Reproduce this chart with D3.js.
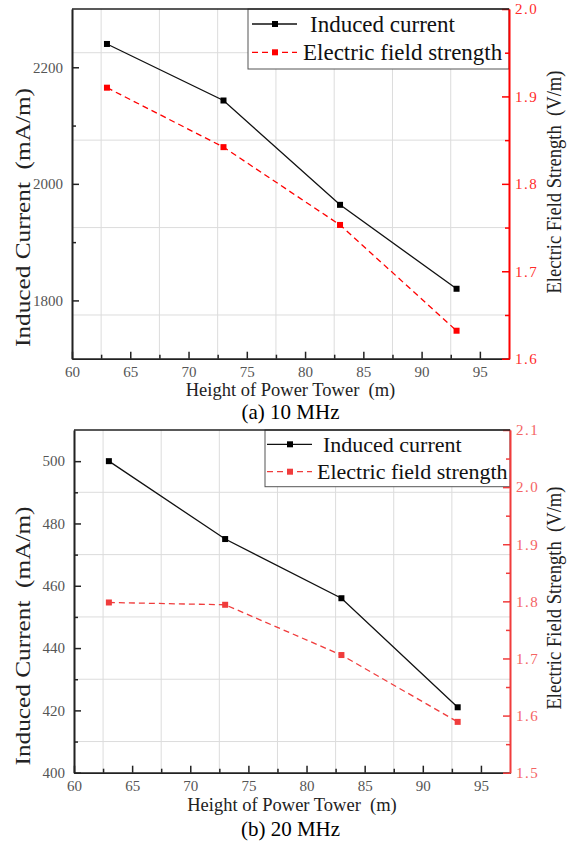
<!DOCTYPE html>
<html>
<head>
<meta charset="utf-8">
<script src="https://cdn.jsdelivr.net/npm/d3@7"></script>
<style>
  body { margin: 0; background: #fff; }
  svg { display: block; }
  svg text { font-family: "Liberation Serif", "Times New Roman", serif !important; }
</style>
</head>
<body>
<div id="chart"></div>
<script>
// values
const heights = [63, 73, 83, 93]
const current10 = [2240, 2143, 1964, 1820]
const field10 = [1.91, 1.842, 1.753, 1.632]
const current20 = [500, 475, 456, 421]
const field20 = [1.798, 1.794, 1.706, 1.589]

const xTicks = [60, 65, 70, 75, 80, 85, 90, 95]
const xMinor = [62.5, 67.5, 72.5, 77.5, 82.5, 87.5, 92.5]
const currentTicks10 = [1800, 2000, 2200]
const currentMinor10 = [1900, 2100]
const fieldTicks10 = [1.6, 1.7, 1.8, 1.9, 2.0]
const fieldMinor10 = [1.65, 1.75, 1.85, 1.95]
const currentTicks20 = [400, 420, 440, 460, 480, 500]
const currentMinor20 = [410, 430, 450, 470, 490]
const fieldTicks20 = [1.5, 1.6, 1.7, 1.8, 1.9, 2.0, 2.1]
const fieldMinor20 = [1.55, 1.65, 1.75, 1.85, 1.95, 2.05]

const seriesNames = ['Induced current', 'Electric field strength']
const captions = ['(a) 10 MHz', '(b) 20 MHz']
const xTitle = 'Height of Power Tower\u2002(m)'
const leftTitle = 'Induced Current\u2002(mA/m)'
const rightTitle = 'Electric Field Strength\u2002(V/m)'

const width = 573
const height = 844
const serif = '"Liberation Serif", "Times New Roman", serif'

const svg = d3
  .select('#chart')
  .append('svg')
  .attr('width', width)
  .attr('height', height)
  .attr('font-family', serif)

svg.append('rect').attr('width', width).attr('height', height).attr('fill', '#fff')

const panels = [
  {
    left: 72, right: 509, top: 9, bottom: 358.7,
    xDomain: [60, 97.5], leftDomain: [1700, 2300], rightDomain: [1.6, 2.0],
    current: current10, field: field10,
    leftTicks: currentTicks10, leftMinor: currentMinor10,
    rightTicks: fieldTicks10, rightMinor: fieldMinor10,
    gridSide: 'right',
    red: '#ff0000', redText: '#ff2a2a',
    legend: { x0: 248, y1: 69, rows: [24, 52.3], lineX: [252, 297], markX: 275, textX: [310, 303], textY: [32.3, 60], size: 23 },
    caption: captions[0], captionY: 419,
    xTitleY: 396,
    labelY: 217.5, rightLabelY: 182
  },
  {
    left: 74, right: 510, top: 430, bottom: 772.7,
    xDomain: [60, 97.5], leftDomain: [400, 510], rightDomain: [1.5, 2.1],
    current: current20, field: field20,
    leftTicks: currentTicks20, leftMinor: currentMinor20,
    rightTicks: fieldTicks20, rightMinor: fieldMinor20,
    gridSide: 'left',
    red: '#f03c3c', redText: '#f46464',
    legend: { x0: 265, y1: 486.7, rows: [444.3, 471.7], lineX: [267, 312], markX: 290, textX: [323, 317], textY: [452.3, 479.3], size: 22 },
    caption: captions[1], captionY: 836,
    xTitleY: 811,
    labelY: 636, rightLabelY: 598
  }
]

panels.forEach(drawPanel)

function drawPanel(p) {
  const g = svg.append('g')

  const x = d3.scaleLinear().domain(p.xDomain).range([p.left, p.right])
  const yL = d3.scaleLinear().domain(p.leftDomain).range([p.bottom, p.top])
  const yR = d3.scaleLinear().domain(p.rightDomain).range([p.bottom, p.top])

  // grid lines sit on the minor ticks
  g.append('g')
    .selectAll('line')
    .data(xMinor)
    .enter()
    .append('line')
    .attr('x1', d => x(d))
    .attr('x2', d => x(d))
    .attr('y1', p.top)
    .attr('y2', p.bottom)
    .attr('stroke', '#dcdcdc')
    .attr('stroke-width', 1)

  const hScale = p.gridSide === 'right' ? yR : yL
  const hVals = p.gridSide === 'right' ? p.rightMinor : p.leftMinor
  g.append('g')
    .selectAll('line')
    .data(hVals)
    .enter()
    .append('line')
    .attr('x1', p.left)
    .attr('x2', p.right)
    .attr('y1', d => hScale(d))
    .attr('y2', d => hScale(d))
    .attr('stroke', '#dcdcdc')
    .attr('stroke-width', 1)

  // series
  const currentPts = heights.map((h, i) => [x(h), yL(p.current[i])])
  const fieldPts = heights.map((h, i) => [x(h), yR(p.field[i])])

  g.append('path')
    .attr('d', d3.line()(currentPts))
    .attr('fill', 'none')
    .attr('stroke', '#111')
    .attr('stroke-width', 1.3)

  g.append('path')
    .attr('d', d3.line()(fieldPts))
    .attr('fill', 'none')
    .attr('stroke', p.red)
    .attr('stroke-width', 1.3)
    .attr('stroke-dasharray', '6,4')

  g.selectAll('.mk-c')
    .data(currentPts)
    .enter()
    .append('rect')
    .attr('x', d => d[0] - 3)
    .attr('y', d => d[1] - 3)
    .attr('width', 6)
    .attr('height', 6)
    .attr('fill', '#000')

  g.selectAll('.mk-f')
    .data(fieldPts)
    .enter()
    .append('rect')
    .attr('x', d => d[0] - 3)
    .attr('y', d => d[1] - 3)
    .attr('width', 6)
    .attr('height', 6)
    .attr('fill', p.red)

  // legend
  const L = p.legend
  g.append('rect')
    .attr('x', L.x0)
    .attr('y', p.top)
    .attr('width', p.right - L.x0)
    .attr('height', L.y1 - p.top)
    .attr('fill', '#fff')
    .attr('stroke', '#555')
    .attr('stroke-width', 1)

  const legColors = ['#111', p.red]
  seriesNames.forEach((name, i) => {
    g.append('line')
      .attr('x1', L.lineX[0])
      .attr('x2', L.lineX[1])
      .attr('y1', L.rows[i])
      .attr('y2', L.rows[i])
      .attr('stroke', legColors[i])
      .attr('stroke-width', 1.3)
      .attr('stroke-dasharray', i === 1 ? '6,4' : null)
    g.append('rect')
      .attr('x', L.markX - 3)
      .attr('y', L.rows[i] - 3)
      .attr('width', 6)
      .attr('height', 6)
      .attr('fill', i === 1 ? p.red : '#000')
    g.append('text')
      .attr('x', L.textX[i])
      .attr('y', L.textY[i])
      .attr('font-size', L.size)
      .attr('font-family', serif)
      .attr('fill', '#111')
      .text(name)
  })

  // axes, ticks point inward
  const xAxis = d3.axisBottom(x).tickValues(xTicks).tickSize(-7).tickSizeOuter(0).tickPadding(8)
  const xAxisMinor = d3.axisBottom(x).tickValues(xMinor).tickSize(-4).tickSizeOuter(0).tickFormat('')
  const lAxis = d3.axisLeft(yL).tickValues(p.leftTicks).tickSize(-7).tickSizeOuter(0).tickPadding(9).tickFormat(d3.format('d'))
  const lAxisMinor = d3.axisLeft(yL).tickValues(p.leftMinor).tickSize(-4).tickSizeOuter(0).tickFormat('')
  const rAxis = d3.axisRight(yR).tickValues(p.rightTicks).tickSize(-7).tickSizeOuter(0).tickPadding(6).tickFormat(d3.format('.1f'))
  const rAxisMinor = d3.axisRight(yR).tickValues(p.rightMinor).tickSize(-4).tickSizeOuter(0).tickFormat('')

  const axisGroups = [
    g.append('g').attr('transform', `translate(0,${p.bottom})`).call(xAxisMinor),
    g.append('g').attr('transform', `translate(0,${p.bottom})`).call(xAxis),
    g.append('g').attr('transform', `translate(${p.left},0)`).call(lAxisMinor),
    g.append('g').attr('transform', `translate(${p.left},0)`).call(lAxis)
  ]
  axisGroups.forEach(a => {
    a.attr('font-family', serif)
    a.selectAll('line').attr('stroke', '#222').attr('stroke-width', 1.5)
    a.select('.domain').attr('stroke', '#222').attr('stroke-width', 1.6)
    a.selectAll('text')
      .attr('font-size', 15)
      .attr('fill', '#555')
  })

  const rightGroups = [
    g.append('g').attr('transform', `translate(${p.right},0)`).call(rAxisMinor),
    g.append('g').attr('transform', `translate(${p.right},0)`).call(rAxis)
  ]
  rightGroups.forEach(a => {
    a.attr('font-family', serif)
    a.selectAll('line').attr('stroke', p.red).attr('stroke-width', 1.5)
    a.select('.domain').attr('stroke', p.red).attr('stroke-width', 1.6)
    a.selectAll('text')
      .attr('font-size', 15)
      .attr('fill', p.redText)
      .attr('letter-spacing', 1.5)
  })

  // top frame
  g.append('line')
    .attr('x1', p.left)
    .attr('x2', p.right)
    .attr('y1', p.top)
    .attr('y2', p.top)
    .attr('stroke', '#222')
    .attr('stroke-width', 1.6)

  // titles
  g.append('text')
    .attr('x', (p.left + p.right) / 2)
    .attr('y', p.xTitleY)
    .attr('text-anchor', 'middle')
    .attr('font-size', 18.5)
    .attr('font-family', serif)
    .attr('fill', '#222')
    .text(xTitle)

  g.append('text')
    .attr('transform', `translate(22.5,${p.labelY}) rotate(-90)`)
    .attr('text-anchor', 'middle')
    .attr('dy', '0.35em')
    .attr('font-size', 20)
    .attr('font-family', serif)
    .attr('textLength', 259)
    .attr('lengthAdjust', 'spacingAndGlyphs')
    .attr('fill', '#222')
    .text(leftTitle)

  g.append('text')
    .attr('transform', `translate(554,${p.rightLabelY}) rotate(-90)`)
    .attr('text-anchor', 'middle')
    .attr('dy', '0.35em')
    .attr('font-size', 20)
    .attr('font-family', serif)
    .attr('textLength', 223)
    .attr('lengthAdjust', 'spacingAndGlyphs')
    .attr('fill', '#222')
    .text(rightTitle)

  g.append('text')
    .attr('x', 290.5)
    .attr('y', p.captionY)
    .attr('text-anchor', 'middle')
    .attr('font-size', 21)
    .attr('font-family', serif)
    .attr('fill', '#000')
    .text(p.caption)
}
</script>
</body>
</html>
